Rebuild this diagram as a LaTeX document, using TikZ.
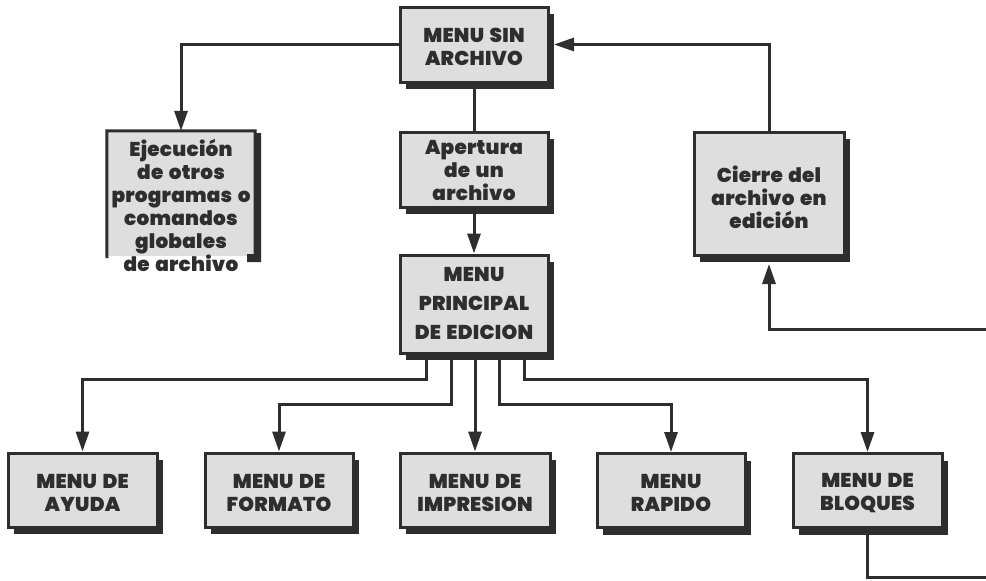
\documentclass[tikz,border=0pt]{standalone}
\usepackage{fontspec}
\setmainfont{Poppins Black}[LetterSpace=1.2,WordSpace=1.5]
\usetikzlibrary{arrows.meta,calc,shadows}
\definecolor{ink}{HTML}{2E2E2E}
\definecolor{boxfill}{HTML}{DEDEDE}
\tikzset{
  x=1pt,y=-1pt,
  boxtext/.style={text=ink,inner sep=0pt,align=center,font=\fontsize{20}{23}\selectfont},
  menubox/.style={draw=ink,line width=3pt,fill=boxfill,inner sep=0pt,minimum width=#1,
    drop shadow={shadow xshift=5.5pt,shadow yshift=-7pt,fill=ink,opacity=1}},
  link/.style={draw=ink,line width=3pt},
  arrowlink/.style={link,-{Triangle[length=20pt,width=13pt]}}
}
\begin{document}
\begin{tikzpicture}
\useasboundingbox (0,0) rectangle (986,581);
\fill[white] (0,0) rectangle (986,581);
% boxes
\node[menubox=148pt,minimum height=75pt,label={[boxtext,yshift=-2.5pt]center:{MENU SIN\\ARCHIVO}}] (sin) at (474,44.5) {};
\node[menubox=148pt,minimum height=75pt,label={[boxtext,yshift=-1pt]center:{Apertura\\de un\\archivo}}] (apertura) at (474,169.5) {};
\node[menubox=148pt,minimum height=98pt,label={[boxtext,yshift=0.5pt]center:{MENU\\[6pt]PRINCIPAL\\[6pt]DE EDICION}}] (principal) at (474,304) {};
\node[menubox=150pt,minimum height=123pt,label={[boxtext,yshift=-3.5pt]center:{Cierre del\\archivo en\\edición}}] (cierre) at (769,193.5) {};
\node[menubox=149pt,minimum height=74pt,label={[boxtext,yshift=-3pt]center:{MENU DE\\AYUDA}}] (ayuda) at (82.5,490) {};
\node[menubox=148pt,minimum height=74pt,label={[boxtext,yshift=-3pt]center:{MENU DE\\FORMATO}}] (formato) at (279,490) {};
\node[menubox=150pt,minimum height=74pt,label={[boxtext,yshift=-3pt]center:{MENU DE\\IMPRESION}}] (impresion) at (475,490) {};
\node[menubox=148pt,minimum height=74pt,label={[boxtext,yshift=-2.5pt]center:{MENU\\RAPIDO}}] (rapido) at (671,490.5) {};
\node[menubox=149pt,minimum height=74pt,label={[boxtext,yshift=-2.5pt]center:{MENU DE\\BLOQUES}}] (bloques) at (867.5,490.5) {};
% open-bottomed box
\node[fill=boxfill,inner sep=0pt,minimum width=148pt,minimum height=125pt] (ejecbox) at (181,193.5) {};
\draw[ink,line width=3pt] (107,258) -- (ejecbox.north west) -- (ejecbox.north east) -- (255,254);
\fill[ink] (255,133) rectangle (261,262) (247,254) rectangle (261,262);
\node[boxtext] (ejecucion) at (181,205) {Ejecución\\de otros\\programas o\\comandos\\globales\\de archivo};
% free ends
\coordinate (p1) at (426,358);
\coordinate (p2) at (451,358);
\coordinate (p4) at (499,358);
\coordinate (p5) at (524,358);
\coordinate (sinarrow) at (554,44.5);
\coordinate (cierrearrow) at (769,264);
\coordinate (exit) at (986,329.5);
\coordinate (bottomright) at (986,577.5);
% connectors
\draw[arrowlink] (cierre.north) |- (sinarrow);
\draw[arrowlink] (sin.west) -| (ejecbox.north);
\draw[link] (sin.south) -- (apertura.north);
\draw[arrowlink] (apertura.south) -- (principal.north);
\draw[arrowlink] (p1) -- ++(0,21) -| (ayuda.north);
\draw[arrowlink] (p2) -- ++(0,46) -| (formato.north);
\draw[arrowlink] (principal.south -| impresion.north) -- (impresion.north);
\draw[arrowlink] (p4) -- ++(0,46) -| (rapido.north);
\draw[arrowlink] (p5) -- ++(0,21) -| (bloques.north);
\draw[arrowlink] (exit) -| (cierrearrow);
\draw[link] (bloques.south) |- (bottomright);
\end{tikzpicture}
\end{document}
